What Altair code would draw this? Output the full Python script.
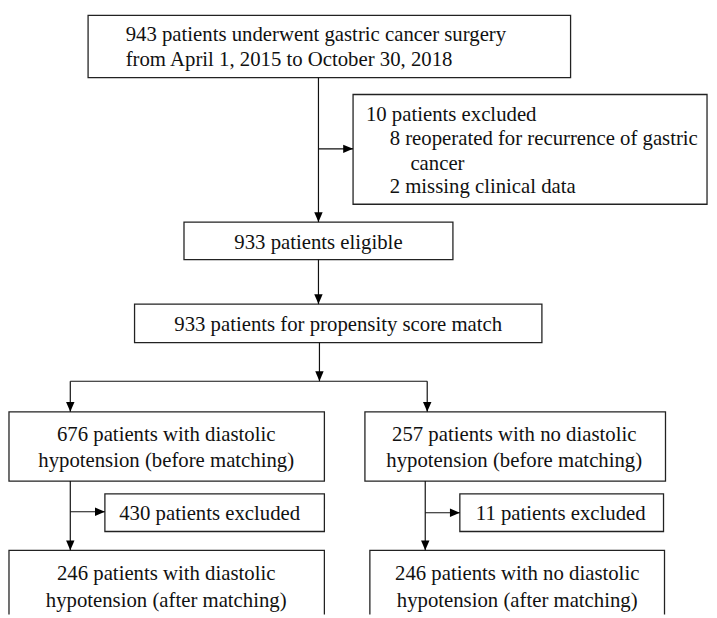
import altair as alt
import pandas as pd

# ---- Flowchart content ----
box_x0 = [89, 357, 186, 136, 9, 369, 106, 465, 9, 374]
box_x1 = [577, 715, 458, 548, 328, 673, 328, 671, 328, 672]
box_y0 = [12, 92, 221, 304, 413, 413, 496, 496, 553, 553]
box_y1 = [75, 203, 259, 343, 483, 483, 534, 534, 640, 640]

text_lines = [
    "943 patients underwent gastric cancer surgery",
    "from April 1, 2015 to October 30, 2018",
    "10 patients excluded",
    "8 reoperated for recurrence of gastric",
    "cancer",
    "2 missing clinical data",
    "933 patients eligible",
    "933 patients for propensity score match",
    "676 patients with diastolic",
    "hypotension (before matching)",
    "257 patients with no diastolic",
    "hypotension (before matching)",
    "430 patients excluded",
    "11 patients excluded",
    "246 patients with diastolic",
    "hypotension (after matching)",
    "246 patients with no diastolic",
    "hypotension (after matching)",
]
text_x = [127, 127, 370, 394, 415, 394, 322, 342, 168, 168, 520, 520, 212, 567, 168, 168, 523, 523]
text_y = [38, 63, 119, 143, 168, 192, 248, 331, 442, 469, 442, 469, 522, 522, 583, 610, 583, 610]
text_pos = ["left"] * 6 + ["center"] * 12

# connector segments: x1, y1, x2, y2, arrow direction at end ("down", "right", "none")
seg_x1 = [322, 322, 322, 323, 71, 71, 432, 71, 71, 430, 430]
seg_y1 = [75, 147, 259, 343, 382, 382, 382, 483, 514, 483, 515]
seg_x2 = [322, 357, 322, 323, 432, 71, 432, 71, 106, 430, 465]
seg_y2 = [221, 147, 304, 382, 382, 413, 413, 553, 514, 553, 515]
seg_arrow = ["down", "right", "down", "down", "none", "down", "down", "down", "right", "down", "right"]

boxes = pd.DataFrame({"x0": box_x0, "x1": box_x1, "y0": box_y0, "y1": box_y1})
texts = pd.DataFrame({"t": text_lines, "x": text_x, "y": text_y, "pos": text_pos})
segs = pd.DataFrame({"x1": seg_x1, "y1": seg_y1, "x2": seg_x2, "y2": seg_y2, "arrow": seg_arrow})

xs = alt.Scale(domain=[8, 717], nice=False, zero=False)
ys = alt.Scale(domain=[8, 618], nice=False, zero=False, reverse=True)

FONT = "Liberation Serif"
FS = 21

box_layer = alt.Chart(boxes).mark_rect(
    fillOpacity=0, stroke="#222222", strokeWidth=1.3, clip=True
).encode(
    x=alt.X("x0:Q", scale=xs, axis=None),
    x2="x1:Q",
    y=alt.Y("y0:Q", scale=ys, axis=None),
    y2="y1:Q",
)

seg_layer = alt.Chart(segs).mark_rule(color="#111111", strokeWidth=1.2).encode(
    x=alt.X("x1:Q", scale=xs, axis=None),
    x2="x2:Q",
    y=alt.Y("y1:Q", scale=ys, axis=None),
    y2="y2:Q",
)

down_path = "M-0.85,-2L0.85,-2L0,0Z"
right_path = "M-2,-0.85L-2,0.85L0,0Z"

down_layer = alt.Chart(segs).transform_filter(alt.datum.arrow == "down").mark_point(
    shape=down_path, filled=True, color="#000000", opacity=1, size=100, strokeWidth=0
).encode(
    x=alt.X("x2:Q", scale=xs, axis=None),
    y=alt.Y("y2:Q", scale=ys, axis=None),
)

right_layer = alt.Chart(segs).transform_filter(alt.datum.arrow == "right").mark_point(
    shape=right_path, filled=True, color="#000000", opacity=1, size=100, strokeWidth=0
).encode(
    x=alt.X("x2:Q", scale=xs, axis=None),
    y=alt.Y("y2:Q", scale=ys, axis=None),
)

text_left = alt.Chart(texts).transform_filter(alt.datum.pos == "left").mark_text(
    align="left", baseline="alphabetic", font=FONT, fontSize=FS, color="#111111"
).encode(
    x=alt.X("x:Q", scale=xs, axis=None),
    y=alt.Y("y:Q", scale=ys, axis=None),
    text="t:N",
)

text_center = alt.Chart(texts).transform_filter(alt.datum.pos == "center").mark_text(
    align="center", baseline="alphabetic", font=FONT, fontSize=FS, color="#111111"
).encode(
    x=alt.X("x:Q", scale=xs, axis=None),
    y=alt.Y("y:Q", scale=ys, axis=None),
    text="t:N",
)

chart = alt.layer(
    box_layer, seg_layer, down_layer, right_layer, text_left, text_center
).properties(
    width=709, height=610, autosize=alt.AutoSizeParams(type="none"), padding=0,
    background="white",
).configure(font=FONT).configure_text(font=FONT).configure_view(stroke=None)

chart.save("out.html", embed_options={"renderer": "svg", "actions": False})
